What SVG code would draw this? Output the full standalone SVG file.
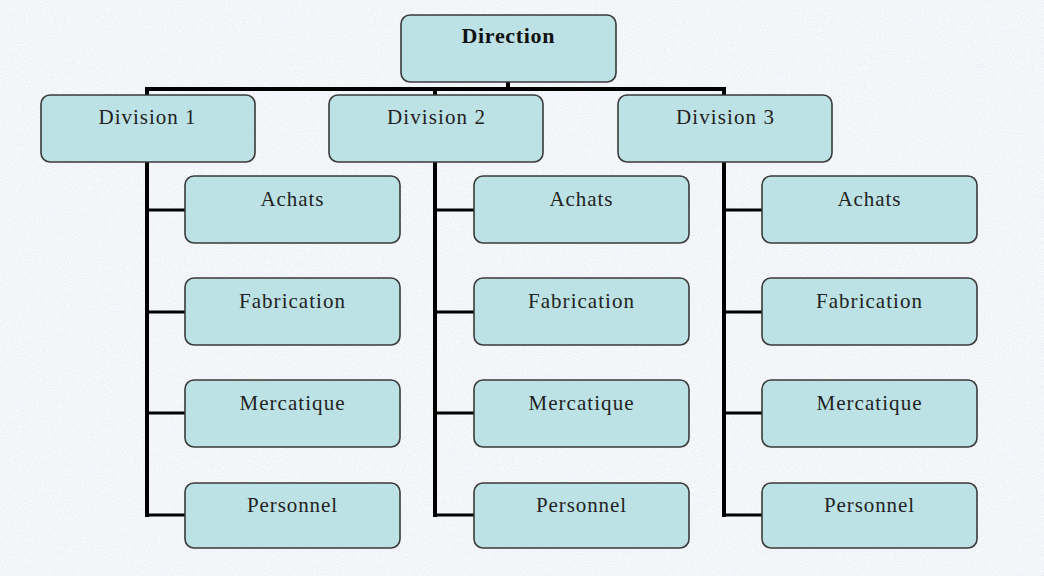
<svg xmlns="http://www.w3.org/2000/svg" width="1044" height="576" viewBox="0 0 1044 576">
<defs>
<filter id="noise" x="0" y="0" width="100%" height="100%">
<feTurbulence type="fractalNoise" baseFrequency="0.9" numOctaves="1" seed="3" result="t"/>
<feColorMatrix in="t" type="matrix" values="0 0 0 0 0.55  0 0 0 0 0.6  0 0 0 0 0.8  0 0 0 -2.2 1.25"/>
</filter>
</defs>
<style>
.box{fill:#bde2e5;stroke:#3a3a3a;stroke-width:1.6}
.t{font-family:"Liberation Serif","DejaVu Serif",serif;font-size:21px;fill:#222;text-anchor:middle}
.b{font-weight:bold;font-size:22px;fill:#111}
.ln{stroke:#000;stroke-width:4;fill:none;stroke-linecap:square}
.br{stroke:#000;stroke-width:3;fill:none}
</style>
<rect width="1044" height="576" fill="#f6f8fa"/>
<rect width="1044" height="576" filter="url(#noise)" opacity="0.35"/>
<g id="connectors">
<path class="ln" d="M147 89 H724"/>
<path class="ln" d="M508 82 V89"/>
<path class="ln" d="M435 89 V95"/>
<path class="ln" d="M147 89 V515 M435 89 V515 M724 89 V515"/>
<path class="br" d="M147 210 H185 M147 312 H185 M147 413 H185 M147 515 H185"/>
<path class="br" d="M435 210 H474 M435 312 H474 M435 413 H474 M435 515 H474"/>
<path class="br" d="M724 210 H762 M724 312 H762 M724 413 H762 M724 515 H762"/>
</g>
<g id="direction"><rect class="box" x="401" y="15" width="215" height="67" rx="9"/><text class="t b" x="508" y="43" textLength="93" lengthAdjust="spacing">Direction</text></g>
<g id="div1"><rect class="box" x="41" y="95" width="214" height="67" rx="9"/><text class="t" x="147" y="124" textLength="97" lengthAdjust="spacing">Division 1</text></g>
<g id="div2"><rect class="box" x="329" y="95" width="214" height="67" rx="9"/><text class="t" x="436" y="124" textLength="98" lengthAdjust="spacing">Division 2</text></g>
<g id="div3"><rect class="box" x="618" y="95" width="214" height="67" rx="9"/><text class="t" x="725" y="124" textLength="98" lengthAdjust="spacing">Division 3</text></g>

<g id="d1-achats"><rect class="box" x="185" y="176" width="215" height="67" rx="9"/><text class="t" x="292" y="206" textLength="63" lengthAdjust="spacing">Achats</text></g>
<g id="d1-fabrication"><rect class="box" x="185" y="278" width="215" height="67" rx="9"/><text class="t" x="292" y="308" textLength="106" lengthAdjust="spacing">Fabrication</text></g>
<g id="d1-mercatique"><rect class="box" x="185" y="380" width="215" height="67" rx="9"/><text class="t" x="292" y="410" textLength="105" lengthAdjust="spacing">Mercatique</text></g>
<g id="d1-personnel"><rect class="box" x="185" y="483" width="215" height="65" rx="9"/><text class="t" x="292" y="512" textLength="90" lengthAdjust="spacing">Personnel</text></g>

<g id="d2-achats"><rect class="box" x="474" y="176" width="215" height="67" rx="9"/><text class="t" x="581" y="206" textLength="63" lengthAdjust="spacing">Achats</text></g>
<g id="d2-fabrication"><rect class="box" x="474" y="278" width="215" height="67" rx="9"/><text class="t" x="581" y="308" textLength="106" lengthAdjust="spacing">Fabrication</text></g>
<g id="d2-mercatique"><rect class="box" x="474" y="380" width="215" height="67" rx="9"/><text class="t" x="581" y="410" textLength="105" lengthAdjust="spacing">Mercatique</text></g>
<g id="d2-personnel"><rect class="box" x="474" y="483" width="215" height="65" rx="9"/><text class="t" x="581" y="512" textLength="90" lengthAdjust="spacing">Personnel</text></g>

<g id="d3-achats"><rect class="box" x="762" y="176" width="215" height="67" rx="9"/><text class="t" x="869" y="206" textLength="63" lengthAdjust="spacing">Achats</text></g>
<g id="d3-fabrication"><rect class="box" x="762" y="278" width="215" height="67" rx="9"/><text class="t" x="869" y="308" textLength="106" lengthAdjust="spacing">Fabrication</text></g>
<g id="d3-mercatique"><rect class="box" x="762" y="380" width="215" height="67" rx="9"/><text class="t" x="869" y="410" textLength="105" lengthAdjust="spacing">Mercatique</text></g>
<g id="d3-personnel"><rect class="box" x="762" y="483" width="215" height="65" rx="9"/><text class="t" x="869" y="512" textLength="90" lengthAdjust="spacing">Personnel</text></g>
</svg>
